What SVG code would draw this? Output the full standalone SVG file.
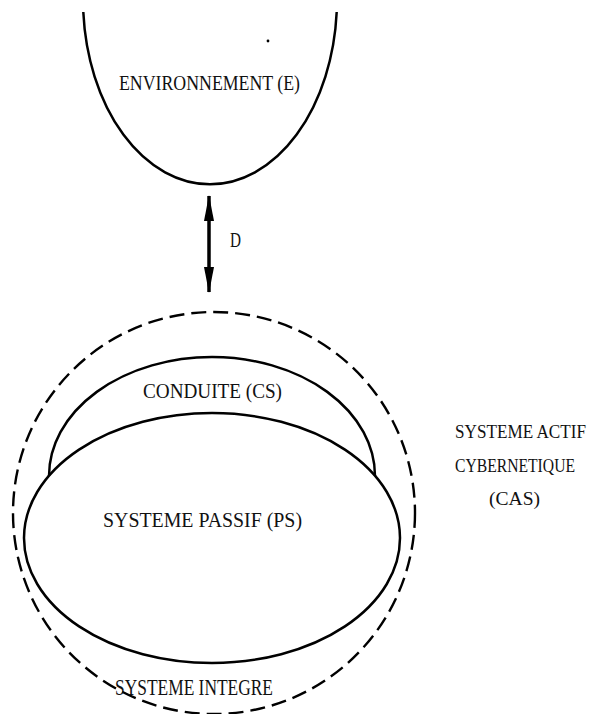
<svg xmlns="http://www.w3.org/2000/svg" width="593" height="714" viewBox="0 0 593 714">
  <style>
    .curve { fill: none; stroke: #000; stroke-width: 2.5; }
    .dashed { fill: none; stroke: #000; stroke-width: 2.4; stroke-dasharray: 15 7; }
    .label { font-family: "Liberation Serif", "DejaVu Serif", serif; font-size: 20px; fill: #111; }
    .big { font-size: 23px; }
    .side { font-size: 18px; }
  </style>
  <defs>
    <marker id="head" viewBox="0 0 26 10" refX="25" refY="5" markerWidth="26" markerHeight="10" markerUnits="userSpaceOnUse" orient="auto-start-reverse">
      <path d="M0 0 L26 5 L0 10 Z" fill="#000"/>
    </marker>
  </defs>

  <rect width="593" height="714" fill="#fff"/>

  <!-- environment: open U-shaped basin -->
  <g id="environnement">
    <path class="curve" d="M83.3 12 A127 185 0 0 0 336.7 12"/>
    <circle cx="268" cy="41" r="1.4" fill="#000"/>
    <text class="label" x="119" y="90" textLength="181" lengthAdjust="spacingAndGlyphs">ENVIRONNEMENT (E)</text>
  </g>

  <!-- integrated system: dashed outer boundary -->
  <g id="systeme-integre">
    <circle class="dashed" cx="214" cy="513" r="201"/>
    <text class="label big" x="115" y="695" textLength="158" lengthAdjust="spacingAndGlyphs">SYSTEME INTEGRE</text>
  </g>

  <!-- behaviour: arch resting on the passive system -->
  <g id="conduite">
    <path class="curve" d="M49 476 A163 119 0 0 1 375 476"/>
    <text class="label" x="143" y="398" textLength="139" lengthAdjust="spacingAndGlyphs">CONDUITE (CS)</text>
  </g>

  <!-- passive system -->
  <g id="systeme-passif">
    <ellipse class="curve" cx="212" cy="538" rx="188" ry="125"/>
    <text class="label" x="103" y="527" textLength="199" lengthAdjust="spacingAndGlyphs">SYSTEME PASSIF (PS)</text>
  </g>

  <!-- active cybernetic system caption -->
  <g id="systeme-actif">
    <text class="label side" x="455" y="438" textLength="131" lengthAdjust="spacingAndGlyphs">SYSTEME ACTIF</text>
    <text class="label side" x="455" y="472" textLength="120" lengthAdjust="spacingAndGlyphs">CYBERNETIQUE</text>
    <text class="label side" x="489" y="505" textLength="51" lengthAdjust="spacingAndGlyphs">(CAS)</text>
  </g>

  <!-- connectors -->
  <g id="connectors">
    <path d="M209 196 L209 292" stroke="#000" stroke-width="3.5" marker-start="url(#head)" marker-end="url(#head)"/>
    <text class="label" x="230" y="247" textLength="11" lengthAdjust="spacingAndGlyphs">D</text>
  </g>
</svg>
